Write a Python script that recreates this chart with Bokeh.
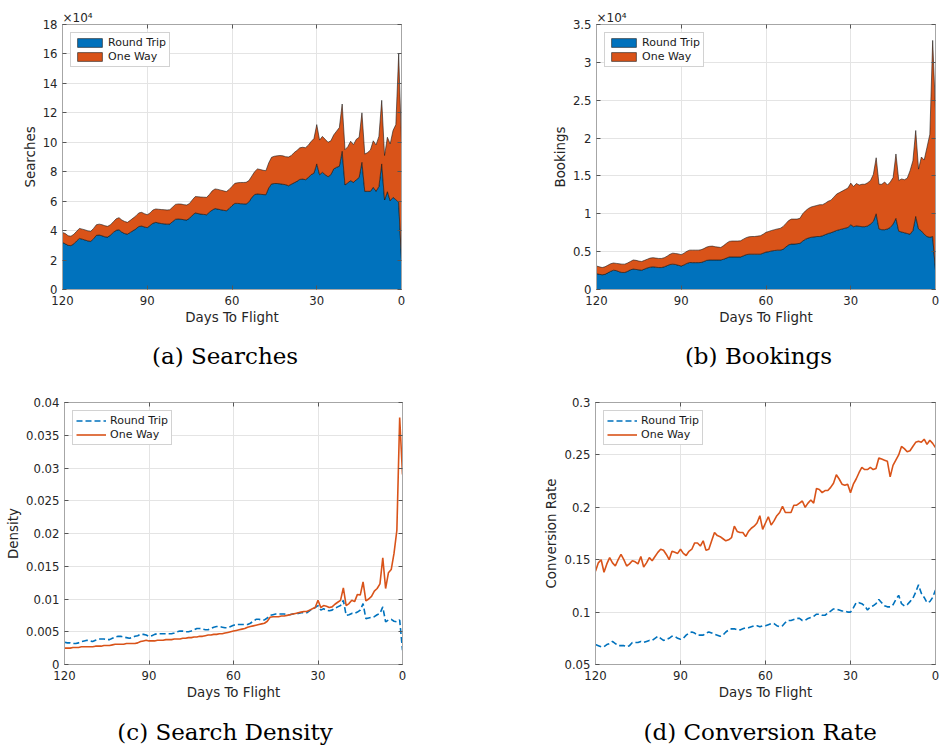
import numpy as np
from bokeh.plotting import figure
from bokeh.layouts import column, row
from bokeh.models import (Range1d, FixedTicker, CustomJSTickFormatter, Legend,
                          LegendItem, Title, LinearAxis)
from bokeh.embed import file_html
from bokeh.resources import INLINE

# ---------------- data (days to flight: 120 -> 0) ----------------
days = list(range(120, -1, -1))

# (a) searches, in units of 10^4 (top of stack = round trip + one way)
searches_total = [3.88, 3.80, 3.65, 3.62, 3.75, 3.95, 4.15, 4.10, 4.05, 3.98,
                  3.95, 4.15, 4.40, 4.44, 4.40, 4.33, 4.29, 4.40, 4.60, 4.80,
                  4.88, 4.72, 4.62, 4.56, 4.70, 4.85, 5.00, 5.20, 5.24, 5.15,
                  5.08, 5.20, 5.40, 5.47, 5.45, 5.43, 5.42, 5.40, 5.42, 5.60,
                  5.78, 5.81, 5.80, 5.76, 5.74, 5.85, 6.10, 6.31, 6.30, 6.28,
                  6.27, 6.26, 6.45, 6.70, 6.83, 6.80, 6.75, 6.70, 6.65, 6.80,
                  7.00, 7.21, 7.25, 7.27, 7.27, 7.28, 7.40, 7.70, 8.00, 8.19,
                  8.15, 8.10, 8.07, 8.60, 8.98, 9.05, 9.08, 9.10, 9.08, 9.02,
                  9.00, 9.10, 9.30, 9.45, 9.62, 9.66, 9.63, 9.80, 10.05, 10.25,
                  11.20, 10.15, 10.40, 10.20, 10.00, 10.10, 10.50, 10.75, 11.00, 12.60,
                  9.50, 9.70, 10.07, 9.84, 10.20, 10.34, 12.00, 9.20, 9.30, 9.48,
                  10.10, 9.82, 10.40, 12.85, 9.10, 10.34, 9.89, 10.80, 11.20, 16.00,
                  9.90]
searches_rt = [3.20, 3.10, 3.00, 2.98, 3.10, 3.30, 3.47, 3.42, 3.36, 3.30,
               3.27, 3.45, 3.68, 3.70, 3.65, 3.58, 3.56, 3.70, 3.88, 4.02,
               4.06, 3.90, 3.80, 3.76, 3.88, 4.00, 4.12, 4.28, 4.31, 4.25,
               4.20, 4.35, 4.50, 4.56, 4.52, 4.48, 4.46, 4.44, 4.45, 4.62,
               4.77, 4.79, 4.77, 4.74, 4.72, 4.85, 5.05, 5.20, 5.16, 5.12,
               5.10, 5.08, 5.25, 5.40, 5.50, 5.46, 5.42, 5.38, 5.35, 5.50,
               5.70, 5.85, 5.85, 5.83, 5.82, 5.81, 5.95, 6.25, 6.45, 6.49,
               6.47, 6.45, 6.44, 6.90, 7.17, 7.20, 7.20, 7.18, 7.15, 7.12,
               7.05, 7.15, 7.25, 7.35, 7.48, 7.50, 7.46, 7.60, 7.80, 7.90,
               8.53, 7.80, 7.96, 7.80, 7.66, 7.80, 8.19, 8.30, 8.37, 9.39,
               7.10, 7.25, 7.39, 7.28, 7.45, 7.62, 8.64, 6.67, 6.67, 6.67,
               6.94, 6.67, 7.00, 8.53, 6.08, 6.64, 6.03, 6.26, 6.10, 5.92,
               2.00]

# (b) bookings, in units of 10^4
bookings_total = [0.31, 0.30, 0.29, 0.30, 0.32, 0.34, 0.35, 0.345, 0.34, 0.335,
                  0.335, 0.35, 0.37, 0.39, 0.385, 0.375, 0.37, 0.385, 0.40, 0.415,
                  0.42, 0.415, 0.41, 0.41, 0.42, 0.44, 0.465, 0.48, 0.475, 0.47,
                  0.46, 0.48, 0.505, 0.52, 0.52, 0.52, 0.52, 0.525, 0.54, 0.56,
                  0.57, 0.573, 0.565, 0.56, 0.555, 0.58, 0.61, 0.635, 0.64, 0.64,
                  0.64, 0.643, 0.665, 0.685, 0.696, 0.70, 0.70, 0.705, 0.71, 0.73,
                  0.755, 0.767, 0.78, 0.79, 0.80, 0.807, 0.83, 0.87, 0.91, 0.93,
                  0.93, 0.93, 0.94, 1.00, 1.04, 1.07, 1.09, 1.10, 1.11, 1.12,
                  1.12, 1.14, 1.165, 1.18, 1.22, 1.26, 1.28, 1.30, 1.32, 1.34,
                  1.405, 1.36, 1.40, 1.38, 1.39, 1.39, 1.41, 1.44, 1.52, 1.74,
                  1.39, 1.39, 1.42, 1.38, 1.42, 1.48, 1.79, 1.44, 1.46, 1.45,
                  1.47, 1.57, 1.70, 2.10, 1.59, 1.75, 1.71, 1.88, 2.05, 3.29,
                  2.36]
bookings_rt = [0.21, 0.20, 0.195, 0.20, 0.22, 0.24, 0.255, 0.25, 0.235, 0.225,
               0.225, 0.24, 0.26, 0.27, 0.265, 0.26, 0.255, 0.27, 0.285, 0.295,
               0.30, 0.295, 0.29, 0.29, 0.30, 0.315, 0.33, 0.335, 0.33, 0.32,
               0.31, 0.325, 0.345, 0.357, 0.355, 0.355, 0.355, 0.357, 0.37, 0.385,
               0.39, 0.39, 0.39, 0.39, 0.39, 0.40, 0.415, 0.43, 0.43, 0.43,
               0.43, 0.43, 0.445, 0.46, 0.467, 0.467, 0.467, 0.467, 0.467, 0.48,
               0.495, 0.50, 0.51, 0.515, 0.52, 0.52, 0.53, 0.56, 0.59, 0.60,
               0.60, 0.605, 0.61, 0.64, 0.665, 0.68, 0.69, 0.695, 0.70, 0.70,
               0.71, 0.725, 0.74, 0.75, 0.765, 0.78, 0.79, 0.80, 0.81, 0.82,
               0.855, 0.83, 0.84, 0.835, 0.83, 0.83, 0.84, 0.865, 0.90, 1.00,
               0.80, 0.79, 0.79, 0.80, 0.82, 0.865, 0.94, 0.77, 0.76, 0.75,
               0.74, 0.73, 0.78, 0.965, 0.80, 0.775, 0.73, 0.70, 0.69, 0.70,
               0.25]

# (c) search density
density_rt = [.0034, .0033, .0033, .0032, .0032, .0033, .0035, .0036, .0037, .0036,
              .0035, .0037, .0039, .0039, .0039, .0038, .0038, .0040, .0042, .0043,
              .0043, .0042, .0041, .0040, .0041, .0043, .0044, .0046, .0046, .0045,
              .0043, .0044, .0046, .0047, .0047, .0047, .0047, .0047, .0047, .0048,
              .0050, .0051, .0051, .0050, .0050, .0051, .0053, .0055, .0055, .0054,
              .0053, .0053, .0055, .0057, .0058, .0058, .0057, .0056, .0056, .0058,
              .0060, .0061, .0061, .0061, .0061, .0061, .0063, .0066, .0069, .0069,
              .0068, .0068, .0071, .0075, .0076, .0077, .0077, .0077, .0077, .0076,
              .0076, .0077, .0078, .0078, .0079, .0079, .0079, .0082, .0085, .0087,
              .0090, .0083, .0085, .0083, .0082, .0083, .0086, .0088, .0090, .0098,
              .0075, .0076, .0078, .0078, .0080, .0083, .0093, .0070, .0071, .0072,
              .0073, .0076, .0078, .0088, .0065, .0068, .0069, .0066, .0065, .0068,
              .0022]
density_ow = [.0025, .0025, .0025, .0026, .0026, .0026, .0027, .0027, .0027, .0027,
              .0027, .0028, .0028, .0028, .0029, .0029, .0029, .0030, .0031, .0031,
              .0031, .0031, .0032, .0032, .0032, .0032, .0033, .0035, .0036, .0037,
              .0036, .0036, .0036, .0037, .0037, .0037, .0038, .0038, .0038, .0039,
              .0039, .0039, .0040, .0040, .0041, .0041, .0042, .0042, .0043, .0043,
              .0044, .0045, .0045, .0046, .0046, .0047, .0047, .0048, .0049, .0050,
              .0051, .0052, .0053, .0054, .0055, .0057, .0058, .0059, .0060, .0061,
              .0062, .0063, .0066, .0072, .0073, .0073, .0073, .0074, .0074, .0075,
              .0076, .0077, .0078, .0079, .0080, .0081, .0081, .0083, .0085, .0087,
              .0098, .0087, .0090, .0089, .0087, .0088, .0092, .0095, .0098, .0117,
              .0090, .0093, .0098, .0096, .0107, .0106, .0126, .0097, .0100, .0104,
              .0112, .0116, .0123, .0163, .0116, .0140, .0145, .0170, .0205, .0377,
              .0290]

# (d) conversion rate
conv_rt = [.069, .068, .067, .067, .069, .070, .072, .070, .068, .068,
           .068, .067, .068, .071, .071, .071, .072, .071, .072, .073,
           .073, .075, .077, .075, .073, .074, .075, .077, .077, .075,
           .074, .075, .078, .080, .081, .080, .078, .078, .078, .080,
           .081, .080, .079, .078, .077, .078, .081, .083, .084, .084,
           .083, .083, .084, .085, .085, .086, .087, .087, .086, .087,
           .087, .088, .089, .089, .087, .086, .087, .090, .092, .092,
           .093, .094, .094, .092, .092, .094, .095, .096, .098, .098,
           .097, .097, .099, .101, .103, .103, .102, .101, .101, .100,
           .100, .104, .109, .109, .108, .106, .102, .105, .106, .108,
           .112, .109, .106, .105, .105, .107, .112, .116, .108, .106,
           .107, .110, .113, .119, .126, .118, .114, .109, .110, .114,
           .121]
conv_ow = [.139, .147, .150, .138, .146, .152, .147, .144, .150, .155,
           .150, .144, .146, .149, .148, .146, .153, .143, .147, .152,
           .149, .153, .157, .160, .159, .155, .150, .158, .157, .156,
           .160, .156, .154, .158, .160, .166, .166, .163, .168, .159,
           .160, .168, .176, .173, .172, .170, .168, .169, .171, .182,
           .177, .176, .176, .172, .177, .180, .182, .185, .192, .179,
           .185, .191, .183, .187, .192, .195, .201, .195, .195, .195,
           .202, .202, .204, .206, .200, .204, .207, .204, .218, .217,
           .214, .216, .216, .219, .223, .231, .227, .222, .221, .222,
           .214, .222, .227, .233, .238, .236, .236, .238, .236, .237,
           .247, .246, .245, .244, .229, .240, .245, .250, .258, .256,
           .253, .254, .258, .262, .263, .262, .265, .260, .264, .261,
           .257]

x_ticks = [120, 90, 60, 30, 0]
searches_ticks = [0, 2, 4, 6, 8, 10, 12, 14, 16, 18]
bookings_ticks = [0, 0.5, 1, 1.5, 2, 2.5, 3, 3.5]
density_ticks = [0, 0.005, 0.01, 0.015, 0.02, 0.025, 0.03, 0.035, 0.04]
conv_ticks = [0.05, 0.1, 0.15, 0.2, 0.25, 0.3]
series_names = ["Round Trip", "One Way"]
captions = ["(a) Searches", "(b) Bookings", "(c) Search Density", "(d) Conversion Rate"]

for arr in [searches_total, searches_rt, bookings_total, bookings_rt,
            density_rt, density_ow, conv_rt, conv_ow]:
    assert len(arr) == len(days), len(arr)

# ---------------- styling ----------------
BLUE = "#0072BD"
ORANGE = "#D95319"
AX = "#262626"
FRAME = "#a6a6a6"
GRID = "#e4e4e4"
TICK = "#555555"
SANS = "DejaVu Sans"
SERIF = "DejaVu Serif"

fmt_code = "return String(tick)"


def tick_only_axis(ticks):
    ax = LinearAxis(ticker=FixedTicker(ticks=ticks))
    ax.major_label_text_font_size = "0px"
    ax.major_label_text_color = None
    ax.major_label_standoff = 0
    ax.major_tick_in = 4
    ax.major_tick_out = 0
    ax.major_tick_line_color = TICK
    ax.minor_tick_line_color = None
    ax.axis_line_color = FRAME
    return ax


def make_fig(h, yr, yticks, ylabel, caption, left, right, top, bottom,
             cap_offset, cap_gap, exponent=""):
    p = figure(width=470, height=h, output_backend="svg", toolbar_location=None,
               x_range=Range1d(120, 0), y_range=Range1d(*yr),
               min_border_left=left, min_border_right=right,
               min_border_top=top, min_border_bottom=bottom,
               background_fill_color="white", border_fill_color="white")
    p.outline_line_color = FRAME
    p.outline_line_width = 1
    p.xaxis.ticker = FixedTicker(ticks=x_ticks)
    p.yaxis.ticker = FixedTicker(ticks=yticks)
    p.yaxis.formatter = CustomJSTickFormatter(code=fmt_code)
    p.xaxis.formatter = CustomJSTickFormatter(code=fmt_code)
    for ax in (p.xaxis, p.yaxis):
        ax.axis_line_color = FRAME
        ax.major_tick_in = 4
        ax.major_tick_out = 0
        ax.major_tick_line_color = TICK
        ax.minor_tick_line_color = None
        ax.major_label_text_font = SANS
        ax.major_label_text_font_size = "11.7px"
        ax.major_label_text_color = AX
        ax.axis_label_text_font = SANS
        ax.axis_label_text_font_size = "13.4px"
        ax.axis_label_text_font_style = "normal"
        ax.axis_label_text_color = AX
    p.xaxis.axis_label = "Days To Flight"
    p.xaxis.major_label_standoff = 6
    p.xaxis.axis_label_standoff = 2
    p.yaxis.axis_label = ylabel
    p.yaxis.major_label_standoff = 5
    p.yaxis.axis_label_standoff = 2
    p.xgrid.grid_line_color = GRID
    p.ygrid.grid_line_color = GRID
    # box ticks on the right and top edges (MATLAB style)
    p.add_layout(tick_only_axis(yticks), "right")
    top_ax = tick_only_axis(x_ticks)
    p.add_layout(top_ax, "above")
    p.above = [top_ax] + [r for r in p.above if r is not top_ax]
    if exponent:
        p.title.text = exponent
        p.title.align = "left"
        p.title.text_font = SANS
        p.title.text_font_size = "12px"
        p.title.text_font_style = "normal"
        p.title.text_color = AX
        p.title.standoff = 0
    # invisible spacer between the x axis and the caption
    p.add_layout(Title(text="\u00a0", text_font_size="1px", standoff=cap_gap,
                       text_color="white"), "below")
    # sub-figure caption
    p.add_layout(Title(text=caption, align="left", offset=cap_offset,
                       vertical_align="bottom", standoff=0,
                       text_font=SERIF, text_font_size="23px",
                       text_font_style="normal", text_color="black"), "below")
    return p


def style_legend(leg, line_mode):
    leg.location = "top_left"
    leg.margin = 8
    leg.padding = 3
    leg.spacing = 1
    leg.glyph_width = 30 if line_mode else 31
    leg.glyph_height = 11
    leg.label_height = 11
    leg.label_standoff = 4 if line_mode else 3
    leg.label_text_font = SANS
    leg.label_text_font_size = "11px"
    leg.label_text_color = "#1a1a1a"
    leg.border_line_color = FRAME
    leg.border_line_width = 1
    leg.background_fill_color = "white"
    leg.background_fill_alpha = 1


def stacked(p, rt, total):
    d = np.array(days, dtype=float)
    rt = np.array(rt)
    total = np.array(total)
    bx = np.concatenate([d, [d[-1], d[0]]])
    by = np.concatenate([rt, [0.0, 0.0]])
    ox = np.concatenate([d, d[::-1]])
    oy = np.concatenate([total, rt[::-1]])
    r1 = p.patch(bx, by, fill_color=BLUE, line_color="#1a1a1a", line_width=0.6)
    r2 = p.patch(ox, oy, fill_color=ORANGE, line_color="#1a1a1a", line_width=0.6)
    leg = Legend(items=[LegendItem(label=series_names[0], renderers=[r1]),
                        LegendItem(label=series_names[1], renderers=[r2])])
    style_legend(leg, False)
    p.add_layout(leg)


def lines(p, rt, ow):
    r1 = p.line(days, rt, line_color=BLUE, line_width=1.6, line_dash="6 3")
    r2 = p.line(days, ow, line_color=ORANGE, line_width=1.6)
    leg = Legend(items=[LegendItem(label=series_names[0], renderers=[r1]),
                        LegendItem(label=series_names[1], renderers=[r2])])
    style_legend(leg, True)
    p.add_layout(leg)


pa = make_fig(373, (0, 18), searches_ticks, "Searches", captions[0],
              62, 69, 24, 84, 89.5, 9.7, exponent="\u00d710\u2074")
stacked(pa, searches_rt, searches_total)

pb = make_fig(373, (0, 3.5), bookings_ticks, "Bookings", captions[1],
              126, 5, 24, 84, 88.4, 9.7, exponent="\u00d710\u2074")
stacked(pb, bookings_rt, bookings_total)

pc = make_fig(373, (0, 0.04), density_ticks, "Density", captions[2],
              64, 68, 29, 82, 52.8, 11.1)
lines(pc, density_rt, density_ow)

pd = make_fig(373, (0.05, 0.3), conv_ticks, "Conversion Rate", captions[3],
              125, 5, 29, 82, 48.0, 11.1)
lines(pd, conv_rt, conv_ow)

layout = column(row(pa, pb), row(pc, pd))
open("out.html", "w").write(file_html(layout, INLINE))
